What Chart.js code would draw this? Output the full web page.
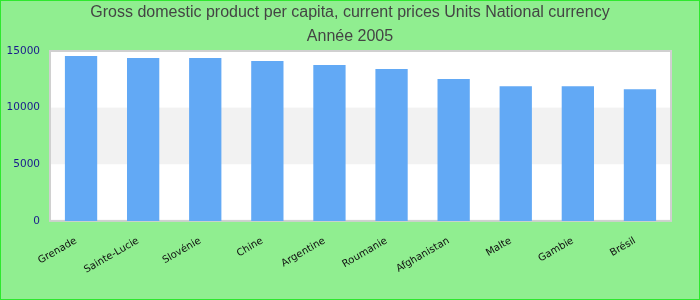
<!DOCTYPE html>
<html>
<head>
<meta charset="utf-8">
<script src="https://cdn.jsdelivr.net/npm/chart.js@4/dist/chart.umd.min.js"></script>
<style>
  html, body { margin: 0; padding: 0; }
  #wrap {
    width: 700px; height: 300px; box-sizing: border-box;
    border: 1px solid #2ee82e; background: #90ee90; position: relative;
  }
</style>
</head>
<body>
<div id="wrap"><canvas id="gdpChart"></canvas></div>
<script>
// Données du graphique
const countries = ['Grenade', 'Sainte-Lucie', 'Slovénie', 'Chine', 'Argentine', 'Roumanie', 'Afghanistan', 'Malte', 'Gambie', 'Brésil'];
const gdpValues = [14560, 14380, 14380, 14110, 13760, 13400, 12520, 11890, 11890, 11630];
const yTicks = [0, 5000, 10000, 15000];

// Bandes grises alternées + bordure de la zone de tracé
const plotBands = {
    id: 'plotBands',
    beforeDatasetsDraw(chart) {
        const { ctx, chartArea, scales } = chart;
        const y = scales.y;
        ctx.save();
        ctx.fillStyle = '#ffffff';
        ctx.fillRect(chartArea.left, chartArea.top, chartArea.width, chartArea.height);
        ctx.fillStyle = '#f2f2f2';
        for (let i = 1; i < yTicks.length - 1; i += 2) {
            const top = y.getPixelForValue(yTicks[i + 1]);
            const bottom = y.getPixelForValue(yTicks[i]);
            ctx.fillRect(chartArea.left, top, chartArea.width, bottom - top);
        }
        ctx.strokeStyle = '#d0d0d0';
        ctx.lineWidth = 2;
        ctx.strokeRect(chartArea.left, chartArea.top, chartArea.width, chartArea.height);
        ctx.restore();
    }
};

const ctx = document.getElementById('gdpChart').getContext('2d');
new Chart(ctx, {
    type: 'bar',
    data: {
        labels: countries,
        datasets: [{
            data: gdpValues,
            backgroundColor: '#62a9f5',
            borderWidth: 0,
            barPercentage: 0.52,
            categoryPercentage: 1.0
        }]
    },
    options: {
        responsive: true,
        maintainAspectRatio: false,
        animation: false,
        layout: { padding: { left: 0, right: 0, top: 0, bottom: 9 } },
        plugins: {
            legend: { display: false },
            tooltip: { enabled: false },
            title: {
                display: true,
                text: ['Gross domestic product per capita, current prices Units National currency', 'Année 2005'],
                color: '#444444',
                font: { family: 'Liberation Sans, Arial, sans-serif', size: 16, weight: 'normal', lineHeight: 1.5 },
                padding: { top: 0, bottom: 2 }
            }
        },
        scales: {
            x: {
                grid: { display: false, drawTicks: false },
                border: { display: false },
                ticks: {
                    autoSkip: false,
                    maxRotation: 30,
                    minRotation: 30,
                    labelOffset: -5,
                    color: '#111111',
                    padding: 14,
                    font: { family: 'DejaVu Sans, sans-serif', size: 10 }
                }
            },
            y: {
                min: 0,
                max: 15000,
                afterBuildTicks(axis) {
                    axis.ticks = yTicks.map(v => ({ value: v }));
                },
                afterFit(axis) {
                    axis.width = 49;
                },
                grid: { display: false, drawTicks: false },
                border: { display: false },
                ticks: {
                    color: '#1a1a8c',
                    padding: 10,
                    callback: v => String(v),
                    font: { family: 'DejaVu Sans, sans-serif', size: 10.5 }
                }
            },
            // marge droite réservée (axe vide)
            yRight: {
                position: 'right',
                min: 0,
                max: 15000,
                afterFit(axis) {
                    axis.width = 28;
                },
                grid: { display: false, drawTicks: false },
                border: { display: false },
                ticks: { display: false }
            }
        }
    },
    plugins: [plotBands]
});
</script>
</body>
</html>
